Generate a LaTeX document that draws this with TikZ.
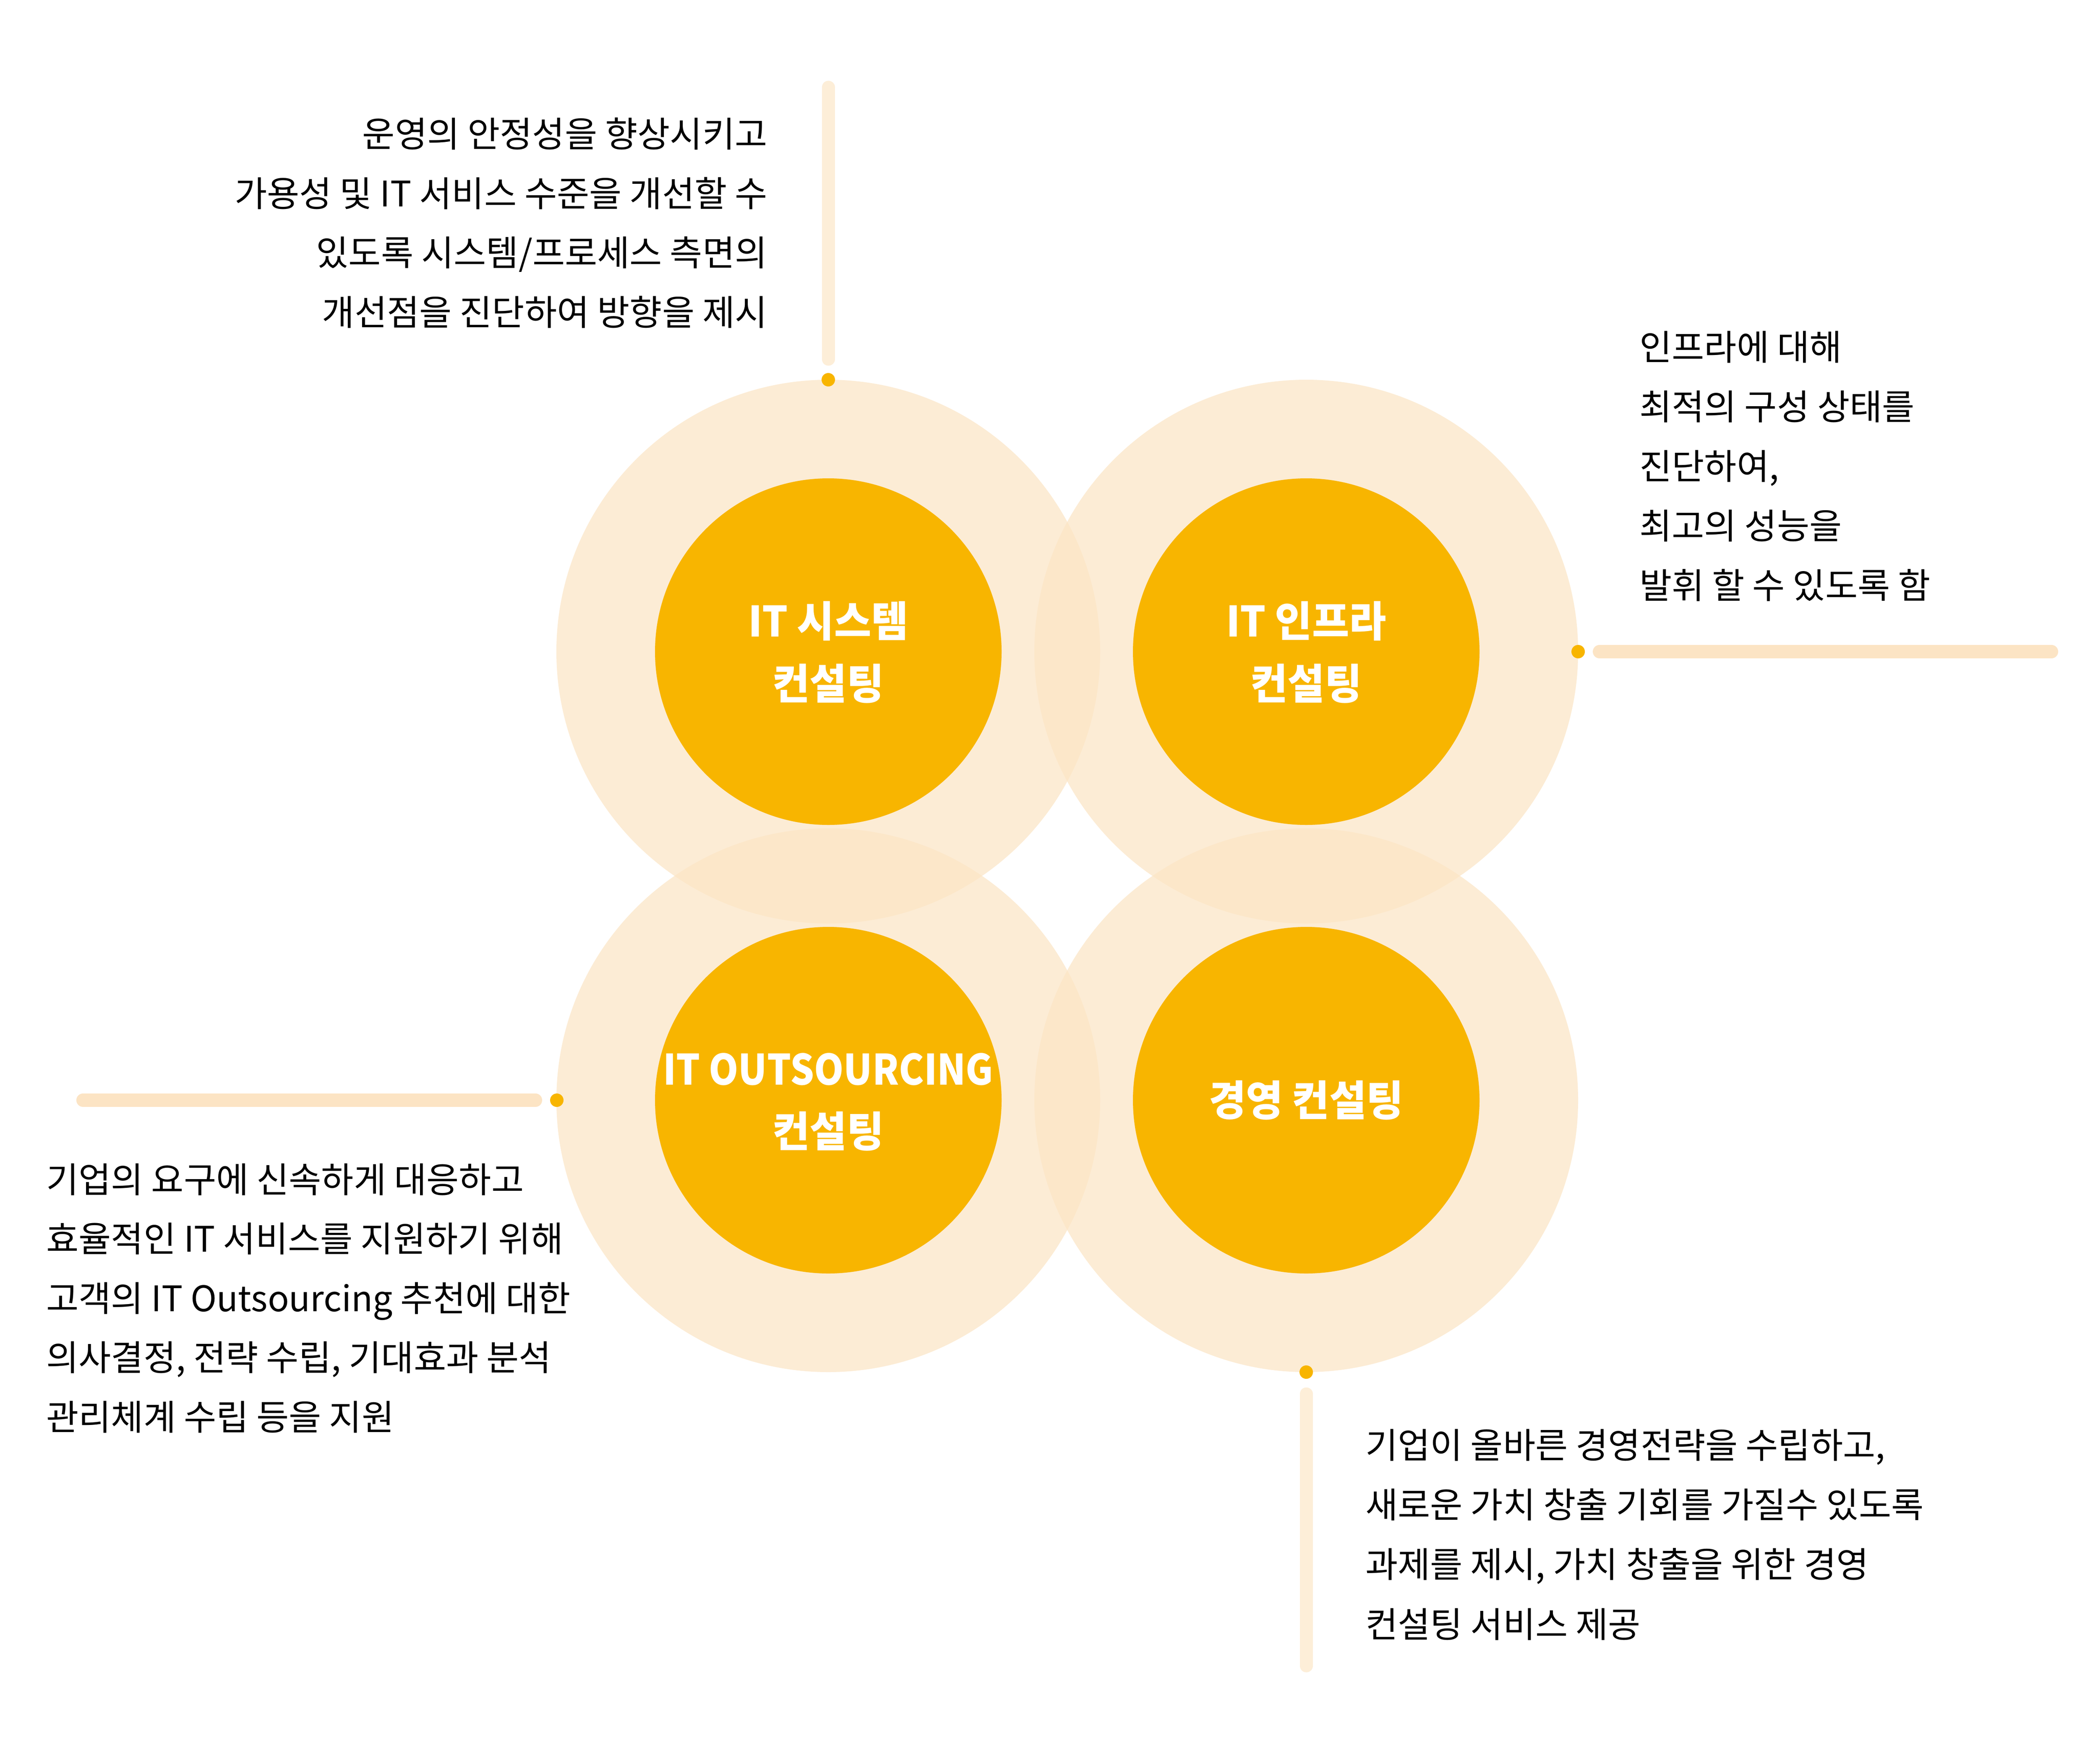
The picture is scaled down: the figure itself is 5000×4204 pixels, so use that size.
\documentclass[tikz,border=0pt]{standalone}
\usepackage{fontspec}
\newfontfamily\krf{Noto Sans CJK KR}
\newfontfamily\krb[FakeStretch=0.96]{Noto Sans CJK KR}
\newfontfamily\krn[FakeStretch=0.895]{Noto Sans CJK KR}
\definecolor{corec}{HTML}{F8B500}
\definecolor{haloc}{HTML}{FCE5C4}
\definecolor{vbarc}{HTML}{FDEED8}
\definecolor{hbarc}{HTML}{FCE4C4}
\begin{document}
\begin{tikzpicture}[x=1pt,y=-1pt,
  halo/.style={circle,fill=haloc,fill opacity=0.7,minimum size=1296pt,inner sep=0pt},
  core/.style={circle,fill=corec,minimum size=826pt,inner sep=0pt},
  dotmark/.style={circle,fill=corec,minimum size=32pt,inner sep=0pt},
  vbarline/.style={line width=31pt,line cap=round,draw=vbarc},
  hbarline/.style={line width=32pt,line cap=round,draw=hbarc},
  body/.style={font=\krf\fontsize{84pt}{100pt}\selectfont,text=black,inner sep=0pt},
  lbl/.style={font=\krb\bfseries\fontsize{100pt}{120pt}\selectfont,text=white,inner sep=0pt,anchor=base},
  lbln/.style={font=\krn\bfseries\fontsize{100pt}{120pt}\selectfont,text=white,inner sep=0pt,anchor=base},
]
\fill[white] (0,0) rectangle (5000,4204);
\useasboundingbox (0,0) rectangle (5000,4204);

% halos
\node[halo] (h1) at (1974,1553) {};
\node[halo] (h2) at (3113,1553) {};
\node[halo] (h3) at (1974,2622) {};
\node[halo] (h4) at (3113,2622) {};
% cores
\node[core] (c1) at (1974,1553) {};
\node[core] (c2) at (3113,1553) {};
\node[core] (c3) at (1974,2622) {};
\node[core] (c4) at (3113,2622) {};
% dots
\node[dotmark] (d1) at (1974,905) {};
\node[dotmark] (d2) at (3761,1553) {};
\node[dotmark] (d3) at (1327,2622) {};
\node[dotmark] (d4) at (3113,3270) {};
% bars
\coordinate (b1a) at (1974,208);
\coordinate (b1b) at (1974,856);
\coordinate (b2a) at (3812,1553);
\coordinate (b2b) at (4889,1553);
\coordinate (b3a) at (198,2622);
\coordinate (b3b) at (1276,2622);
\coordinate (b4a) at (3113,3322);
\coordinate (b4b) at (3113,3970);
\draw[vbarline] (b1a) -- (b1b);
\draw[hbarline] (b2a) -- (b2b);
\draw[hbarline] (b3a) -- (b3b);
\draw[vbarline] (b4a) -- (b4b);

% circle labels
\node[lbl] (l1a) at (1974,1517) {IT 시스템};
\node[lbl] (l1b) at (1974,1666) {컨설팅};
\node[lbl] (l2a) at (3113,1517) {IT 인프라};
\node[lbl] (l2b) at (3113,1666) {컨설팅};
\node[lbln] (l3a) at (1974,2585) {IT OUTSOURCING};
\node[lbl] (l3b) at (1974,2733) {컨설팅};
\node[lbl] (l4a) at (3113,2659) {경영 컨설팅};

% top-left text
\node[body,anchor=base east] (t1) at (1829,350) {운영의 안정성을 향상시키고};
\node[body,anchor=base east] (t2) at (1829,492) {가용성 및 IT 서비스 수준을 개선할 수};
\node[body,anchor=base east] (t3) at (1829,633) {있도록 시스템/프로세스 측면의};
\node[body,anchor=base east] (t4) at (1829,775) {개선점을 진단하여 방향을 제시};

% top-right text
\node[body,anchor=base west] (r1) at (3907,858) {인프라에 대해};
\node[body,anchor=base west] (r2) at (3907,1000) {최적의 구성 상태를};
\node[body,anchor=base west] (r3) at (3907,1142) {진단하여,};
\node[body,anchor=base west] (r4) at (3907,1284) {최고의 성능을};
\node[body,anchor=base west] (r5) at (3907,1426) {발휘 할 수 있도록 함};

% bottom-left text
\node[body,anchor=base west] (s1) at (110,2842) {기업의 요구에 신속하게 대응하고};
\node[body,anchor=base west] (s2) at (110,2983) {효율적인 IT 서비스를 지원하기 위해};
\node[body,anchor=base west] (s3) at (110,3125) {고객의 IT Outsourcing 추천에 대한};
\node[body,anchor=base west] (s4) at (110,3266) {의사결정, 전략 수립, 기대효과 분석};
\node[body,anchor=base west] (s5) at (110,3408) {관리체계 수립 등을 지원};

% bottom-right text
\node[body,anchor=base west] (u1) at (3254,3475) {기업이 올바른 경영전략을 수립하고,};
\node[body,anchor=base west] (u2) at (3254,3617) {새로운 가치 창출 기회를 가질수 있도록};
\node[body,anchor=base west] (u3) at (3254,3759) {과제를 제시, 가치 창출을 위한 경영};
\node[body,anchor=base west] (u4) at (3254,3902) {컨설팅 서비스 제공};
\end{tikzpicture}
\end{document}
